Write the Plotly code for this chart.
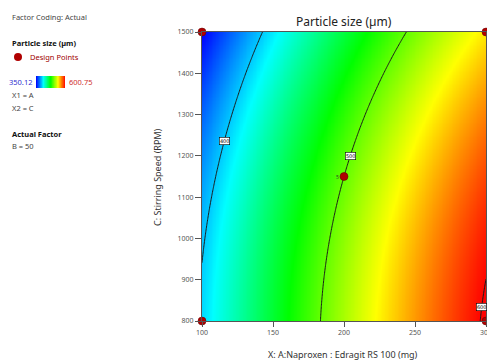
import numpy as np
import plotly.graph_objects as go

# Factor ranges (actual units)
a_range = [100, 300]        # A: Naproxen : Eudragit RS 100 (mg)
c_range = [800, 1500]       # C: Stirring speed (RPM)

# Quadratic response model in coded units (u for A, v for C), B held at 50
coef_b0, coef_a, coef_c, coef_ac, coef_aa, coef_cc = 500.0, 98.3, -28.4, -1.44, -13.7, -11.48

# Design points
design_a = [100, 100, 300, 300, 200]
design_c = [800, 1500, 800, 1500, 1150]
center_reps = "5"

# Response colour range
resp_min, resp_max = 350.12, 600.75

# Contour levels and where their labels sit (stirring speed)
levels = [400, 500, 600]
label_c = [1236, 1200, 834]


def coded(a, c):
    return (np.asarray(a) - 200.0) / 100.0, (np.asarray(c) - 1150.0) / 350.0


def response(a, c):
    u, v = coded(a, c)
    return (coef_b0 + coef_a * u + coef_c * v + coef_ac * u * v
            + coef_aa * u ** 2 + coef_cc * v ** 2)


a_grid = np.linspace(a_range[0], a_range[1], 201)
c_grid = np.linspace(c_range[0], c_range[1], 201)
AA, CC = np.meshgrid(a_grid, c_grid)
ZZ = response(AA, CC)

scale = [[0.0, "rgb(0,0,255)"], [0.25, "rgb(0,255,255)"], [0.5, "rgb(0,255,0)"],
         [0.75, "rgb(255,255,0)"], [1.0, "rgb(255,0,0)"]]

W, H = 487, 362
PL, PR, PT, PB = 202, 486, 32, 321


def fx(px):
    return px / W


def fy(py):
    return 1 - py / H


fig = go.Figure()
fig.add_trace(go.Heatmap(x=a_grid, y=c_grid, z=ZZ, colorscale=scale, zmin=resp_min,
                         zmax=resp_max, zsmooth="best", showscale=False, hoverinfo="skip"))
fig.add_trace(go.Contour(x=a_grid, y=c_grid, z=ZZ, showscale=False,
                         contours=dict(coloring="lines", start=levels[0], end=levels[-1],
                                       size=levels[1] - levels[0]),
                         colorscale=[[0, "#1a1a1a"], [1, "#1a1a1a"]],
                         line=dict(width=1, color="#1a1a1a"), hoverinfo="skip"))
fig.add_trace(go.Scatter(x=design_a, y=design_c, mode="markers", cliponaxis=False,
                         marker=dict(size=8, color="#b00000", line=dict(width=0.5, color="#600000")),
                         hoverinfo="skip"))

# Gradient swatch in the side panel
swatch = np.linspace(resp_min, resp_max, 100)
fig.add_trace(go.Heatmap(x=swatch, y=[0], z=[swatch], colorscale=scale, zmin=resp_min,
                         zmax=resp_max, zsmooth="best", showscale=False, hoverinfo="skip",
                         xaxis="x2", yaxis="y2"))

ann = []
# Contour labels placed on the lines
fine_a = np.linspace(a_range[0], a_range[1], 4001)
for lev, cc in zip(levels, label_c):
    vals = response(fine_a, np.full_like(fine_a, cc))
    a_at = float(np.interp(lev, vals, fine_a))
    ann.append(dict(x=a_at, y=cc, xref="x", yref="y", text=str(lev), showarrow=False,
                    xanchor="center", yanchor="middle",
                    font=dict(size=5, color="#000", family="DejaVu Sans"), bgcolor="white",
                    bordercolor="#000", borderwidth=0.6, borderpad=0.3))

ann.append(dict(x=design_a[-1], y=design_c[-1], xref="x", yref="y", text=center_reps,
                showarrow=False, xshift=-7, xanchor="center", yanchor="middle",
                font=dict(size=5, color="#333")))

ann.append(dict(x=fx((PL + PR) / 2), y=fy(21), xref="paper", yref="paper",
                xanchor="center", yanchor="middle",
                text="Particle size (µm)", showarrow=False,
                font=dict(size=12, color="#222", family="Noto Sans")))
ann.append(dict(x=fx(343), y=fy(354), xref="paper", yref="paper",
                xanchor="center", yanchor="middle",
                text="X: A:Naproxen : Edragit RS 100 (mg)", showarrow=False,
                font=dict(size=9, color="#333", family="Noto Sans")))
ann.append(dict(x=fx(157), y=fy(177), xref="paper", yref="paper", textangle=-90,
                xanchor="center", yanchor="middle",
                text="C: Stirring Speed (RPM)", showarrow=False,
                font=dict(size=9, color="#333", family="Noto Sans")))

side = [
    ("Factor Coding: Actual", 10, 17, False, "#444"),
    ("Particle size (µm)", 10, 43, True, "#111"),
    ("Design Points", 28, 57, False, "#a00000"),
    ("X1 = A", 10, 95, False, "#444"),
    ("X2 = C", 10, 108, False, "#444"),
    ("Actual Factor", 10, 134, True, "#111"),
    ("B = 50", 10, 146, False, "#444"),
]
for txt, x, y, bold, col in side:
    ann.append(dict(x=fx(x), y=fy(y), xref="paper", yref="paper", xanchor="left",
                    yanchor="middle", text=f"<b>{txt}</b>" if bold else txt, showarrow=False,
                    font=dict(size=7.5, color=col, family="Noto Sans")))
ann.append(dict(x=fx(34), y=fy(82), xref="paper", yref="paper", xanchor="right",
                yanchor="middle", text=f"{resp_min:.2f}", showarrow=False,
                font=dict(size=7.5, color="#3030d0", family="Noto Sans")))
ann.append(dict(x=fx(67), y=fy(82), xref="paper", yref="paper", xanchor="left",
                yanchor="middle", text=f"{resp_max:.2f}", showarrow=False,
                font=dict(size=7.5, color="#d03030", family="Noto Sans")))

shapes = [dict(type="circle", xref="paper", yref="paper", x0=fx(14), x1=fx(22),
               y0=fy(61), y1=fy(53), fillcolor="#b00000", line=dict(width=0))]

fig.update_layout(
    width=W, height=H, margin=dict(l=0, r=0, t=0, b=0, autoexpand=False),
    paper_bgcolor="white", plot_bgcolor="white", showlegend=False,
    annotations=ann, shapes=shapes,
    xaxis=dict(domain=[fx(PL), fx(PR)], range=a_range, dtick=50, tick0=100,
               automargin=False, ticklabeloverflow="allow",
               ticks="outside", ticklen=5, tickcolor="#555", showgrid=False, zeroline=False,
               showline=True, linecolor="#555", linewidth=1, mirror=True,
               tickfont=dict(size=7, color="#555", family="Noto Sans")),
    yaxis=dict(domain=[fy(PB), fy(PT)], range=c_range, dtick=100, tick0=800,
               automargin=False, ticklabeloverflow="allow",
               ticks="outside", ticklen=6, tickcolor="#555", showgrid=False, zeroline=False,
               showline=True, linecolor="#555", linewidth=1, mirror=True,
               tickfont=dict(size=7, color="#555", family="Noto Sans")),
    xaxis2=dict(domain=[fx(36), fx(65)], range=[resp_min, resp_max], visible=False,
                anchor="y2", automargin=False),
    yaxis2=dict(domain=[fy(88), fy(76)], range=[-0.5, 0.5], visible=False, anchor="x2",
                automargin=False),
)

fig.write_html("out.html")
